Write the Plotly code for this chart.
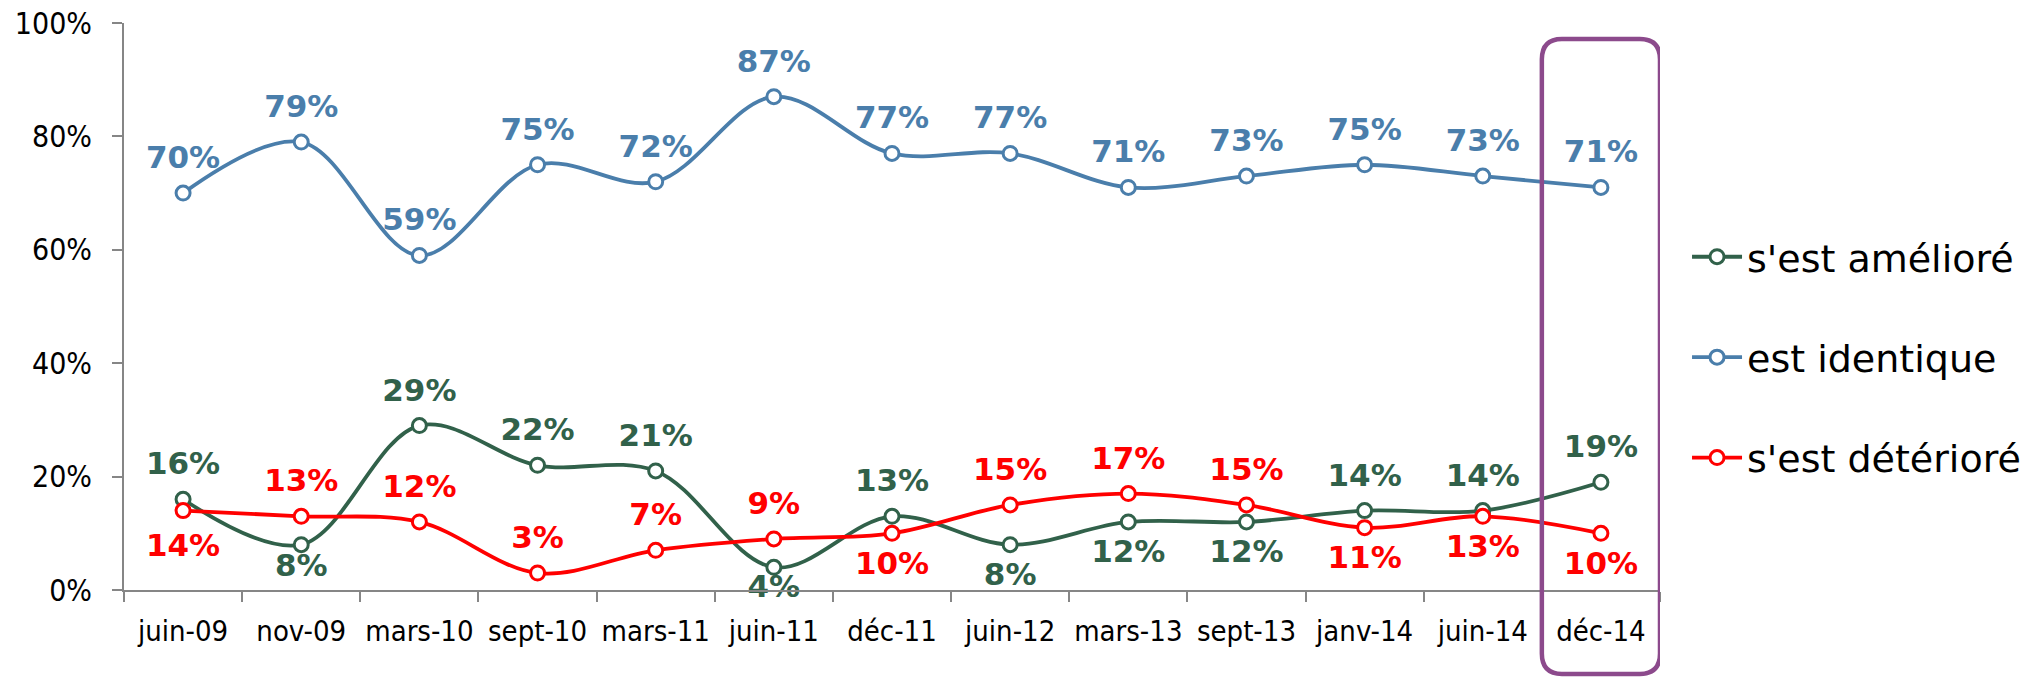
import plotly.graph_objects as go

periods = ["juin-09", "nov-09", "mars-10", "sept-10", "mars-11", "juin-11", "déc-11",
           "juin-12", "mars-13", "sept-13", "janv-14", "juin-14", "déc-14"]

ameliore = [16, 8, 29, 22, 21, 4, 13, 8, 12, 12, 14, 14, 19]
identique = [70, 79, 59, 75, 72, 87, 77, 77, 71, 73, 75, 73, 71]
deteriore = [14, 13, 12, 3, 7, 9, 10, 15, 17, 15, 11, 13, 10]

pos_ameliore = ["top", "bottom", "top", "top", "top", "bottom", "top",
                "bottom", "bottom", "bottom", "top", "top", "top"]
pos_identique = ["top"] * 13
pos_deteriore = ["bottom", "top", "top", "top", "top", "top", "bottom",
                 "top", "top", "top", "bottom", "bottom", "bottom"]

# distance of the value label from its point (invisible marker size)
gap_ameliore = [26, 12, 26, 26, 26, 8, 26, 26, 26, 26, 26, 26, 26]
gap_identique = [26] * 13
gap_deteriore = [34, 26, 26, 26, 26, 26, 26, 26, 26, 26, 26, 26, 26]

GREEN = "#31614A"
BLUE = "#4A7EAB"
RED = "#FF0000"
PURPLE = "#8C4A8C"

FONT = "DejaVu Sans"
TICK_FONT = "DejaVu Sans Condensed, DejaVu Sans"


def add_series(fig, name, values, positions, gaps, color):
    # the line with its open markers (shown in the legend)
    fig.add_trace(go.Scatter(
        x=periods, y=values, name=name, legendgroup=name,
        mode="lines+markers",
        line=dict(color=color, width=3.8, shape="spline", smoothing=1.0),
        marker=dict(symbol="circle", size=14, color="white", line=dict(color=color, width=3)),
        cliponaxis=False,
    ))
    # value labels, pushed away from the points by an invisible marker
    fig.add_trace(go.Scatter(
        x=periods, y=values, legendgroup=name, showlegend=False,
        mode="markers+text", hoverinfo="skip",
        marker=dict(size=gaps, opacity=0),
        text=[f"{v}%" for v in values],
        texttemplate="<b>%{text}</b>",
        textposition=[p + " center" for p in positions],
        textfont=dict(family=FONT, size=31, color=color),
        cliponaxis=False,
    ))


fig = go.Figure()
add_series(fig, "s'est amélioré", ameliore, pos_ameliore, gap_ameliore, GREEN)
add_series(fig, "est identique", identique, pos_identique, gap_identique, BLUE)
add_series(fig, "s'est détérioré", deteriore, pos_deteriore, gap_deteriore, RED)

# highlighted last period: rounded box around the last category
x0, x1 = 11.5, 12.5
y0, y1 = -0.148, 0.972
rx, ry = 0.17, 0.036
box = (f"M {x0 + rx} {y1} L {x1 - rx} {y1} Q {x1} {y1} {x1} {y1 - ry} "
       f"L {x1} {y0 + ry} Q {x1} {y0} {x1 - rx} {y0} "
       f"L {x0 + rx} {y0} Q {x0} {y0} {x0} {y0 + ry} "
       f"L {x0} {y1 - ry} Q {x0} {y1} {x0 + rx} {y1} Z")
fig.add_shape(type="path", path=box, xref="x", yref="paper",
              line=dict(color=PURPLE, width=4.5), layer="above")

# the page body adds an 8px offset, so the figure is 8px smaller
fig.update_layout(
    width=2024, height=673,
    margin=dict(l=116, r=372, t=15, b=91, autoexpand=False),
    paper_bgcolor="white", plot_bgcolor="white",
    font=dict(family=FONT, color="black"),
    legend=dict(
        x=1.0176, y=0.41, xanchor="left", yanchor="middle",
        font=dict(family=FONT, size=38, color="black"),
        traceorder="grouped", tracegroupgap=48, itemwidth=50,
        bgcolor="rgba(0,0,0,0)",
    ),
)
fig.update_xaxes(
    type="category", range=[-0.5, 12.5], automargin=False, tickangle=0,
    showline=True, linecolor="#868686", linewidth=2,
    ticks="outside", tickson="boundaries", ticklen=10, tickcolor="#868686", tickwidth=2,
    ticklabelstandoff=14, ticklabeloverflow="allow",
    showgrid=False, zeroline=False,
    tickfont=dict(family=TICK_FONT, size=29, color="black"),
)
fig.update_yaxes(
    range=[0, 100], dtick=20, ticksuffix="%", automargin=False,
    showline=True, linecolor="#868686", linewidth=2,
    ticks="outside", ticklen=10, tickcolor="#868686", tickwidth=2,
    ticklabelstandoff=14, ticklabeloverflow="allow",
    showgrid=False, zeroline=False,
    tickfont=dict(family=TICK_FONT, size=30, color="black"),
)

fig.write_html("out.html")
